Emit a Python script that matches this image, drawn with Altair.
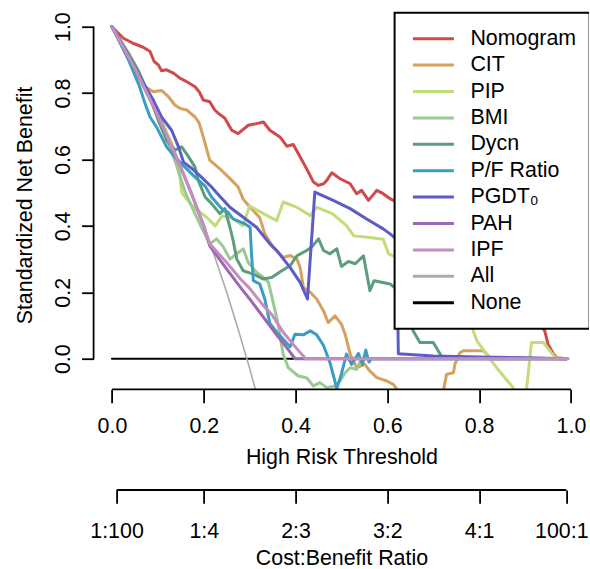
import altair as alt
import pandas as pd

FONT = "Liberation Sans"
FS = 21.4

series_names = ["Nomogram", "CIT", "PIP", "BMI", "Dycn", "P/F Ratio", "PGDT\u2080", "PAH", "IPF", "All", "None"]
series_colors = ["#D0494B", "#D5A15F", "#C3DC7A", "#9BC995", "#5B9D7C", "#3B9EC1",
                 "#5C5CC9", "#9B69B3", "#C68EBF", "#ABABAB", "#000000"]

x_ticks = [0.0, 0.2, 0.4, 0.6, 0.8, 1.0]
y_ticks = [0.0, 0.2, 0.4, 0.6, 0.8, 1.0]
cb_ticks = [0.01, 0.2, 0.4, 0.6, 0.8, 0.99]
cb_labels = ["1:100", "1:4", "2:3", "3:2", "4:1", "100:1"]

x_domain = [-0.04, 1.04]
y_domain = [-0.092, 1.042]

nomogram = [(0, 1.0), (0.01, 0.985), (0.025, 0.965), (0.046, 0.95), (0.068, 0.938), (0.083, 0.925),
            (0.092, 0.895), (0.101, 0.885), (0.108, 0.867), (0.119, 0.87), (0.134, 0.86), (0.148, 0.845),
            (0.163, 0.834), (0.181, 0.819), (0.19, 0.804), (0.199, 0.779), (0.213, 0.774), (0.224, 0.749),
            (0.232, 0.739), (0.246, 0.724), (0.261, 0.688), (0.275, 0.678), (0.297, 0.703), (0.315, 0.708),
            (0.33, 0.713), (0.344, 0.688), (0.366, 0.668), (0.381, 0.64), (0.395, 0.645), (0.417, 0.59),
            (0.428, 0.562), (0.439, 0.532), (0.45, 0.522), (0.461, 0.527), (0.468, 0.537), (0.479, 0.56),
            (0.497, 0.542), (0.519, 0.527), (0.533, 0.497), (0.544, 0.507), (0.559, 0.477), (0.577, 0.507),
            (0.591, 0.497), (0.606, 0.482), (0.65, 0.45), (0.70, 0.40), (0.75, 0.35), (0.80, 0.30),
            (0.85, 0.24), (0.90, 0.17), (0.93, 0.11), (0.943, 0.084), (0.95, 0.044), (0.962, 0.014),
            (0.969, 0.003), (0.99, 0.0)]

cit = [(0, 1.0), (0.036, 0.91), (0.072, 0.82), (0.09, 0.804), (0.108, 0.808), (0.123, 0.789),
       (0.137, 0.764), (0.148, 0.754), (0.163, 0.749), (0.181, 0.728), (0.19, 0.71), (0.199, 0.668),
       (0.206, 0.633), (0.213, 0.598), (0.239, 0.567), (0.261, 0.537), (0.275, 0.517), (0.286, 0.48),
       (0.301, 0.456), (0.322, 0.425), (0.333, 0.376), (0.351, 0.336), (0.373, 0.305), (0.388, 0.311),
       (0.403, 0.30), (0.41, 0.275), (0.417, 0.215), (0.432, 0.2), (0.446, 0.18), (0.461, 0.144),
       (0.471, 0.109), (0.486, 0.129), (0.50, 0.104), (0.508, 0.074), (0.519, 0.014), (0.533, -0.027),
       (0.551, -0.017), (0.562, -0.037), (0.577, -0.057), (0.599, -0.067), (0.613, -0.077),
       (0.624, -0.097), (0.65, -0.13), (0.69, -0.15), (0.715, -0.12), (0.722, -0.097), (0.729, -0.047),
       (0.744, -0.042), (0.747, -0.017), (0.758, 0.018), (0.766, 0.024), (0.809, 0.024), (0.817, 0.014),
       (0.825, 0.0), (0.99, 0.0)]

pip = [(0, 1.0), (0.05, 0.87), (0.1, 0.74), (0.13, 0.65), (0.145, 0.59), (0.152, 0.50), (0.174, 0.462),
       (0.188, 0.446), (0.206, 0.426), (0.225, 0.40), (0.24, 0.43), (0.26, 0.425), (0.285, 0.40),
       (0.30, 0.46), (0.33, 0.437), (0.359, 0.416), (0.373, 0.472), (0.403, 0.456), (0.432, 0.431),
       (0.446, 0.456), (0.48, 0.437), (0.511, 0.401), (0.527, 0.37), (0.562, 0.365), (0.591, 0.36),
       (0.603, 0.315), (0.65, 0.29), (0.70, 0.25), (0.75, 0.20), (0.78, 0.12), (0.787, 0.084),
       (0.795, 0.054), (0.838, -0.027), (0.871, -0.082), (0.878, -0.095), (0.89, -0.12), (0.90, -0.12),
       (0.903, -0.095), (0.914, 0.049), (0.94, 0.049), (0.966, 0.003), (0.99, 0.0)]

bmi = [(0, 1.0), (0.05, 0.87), (0.1, 0.735), (0.14, 0.585), (0.16, 0.50), (0.181, 0.437), (0.195, 0.396),
       (0.213, 0.346), (0.228, 0.361), (0.243, 0.336), (0.257, 0.30), (0.272, 0.316), (0.286, 0.331),
       (0.297, 0.29), (0.315, 0.26), (0.33, 0.245), (0.341, 0.23), (0.359, 0.124), (0.373, 0.014),
       (0.384, -0.027), (0.406, -0.052), (0.424, -0.057), (0.439, -0.082), (0.453, -0.072),
       (0.468, -0.087), (0.486, -0.082), (0.497, -0.067), (0.508, -0.042), (0.519, -0.027),
       (0.533, -0.032), (0.544, 0.0), (0.99, 0.0)]

dycn = [(0, 1.0), (0.036, 0.92), (0.057, 0.869), (0.079, 0.799), (0.101, 0.718), (0.119, 0.658),
        (0.137, 0.628), (0.152, 0.638), (0.167, 0.608), (0.181, 0.577), (0.188, 0.537), (0.203, 0.487),
        (0.217, 0.467), (0.235, 0.437), (0.246, 0.452), (0.257, 0.396), (0.264, 0.356), (0.272, 0.30),
        (0.286, 0.265), (0.308, 0.255), (0.33, 0.24), (0.348, 0.245), (0.37, 0.265), (0.388, 0.28),
        (0.403, 0.31), (0.424, 0.326), (0.435, 0.336), (0.45, 0.361), (0.461, 0.326), (0.475, 0.316),
        (0.49, 0.331), (0.50, 0.278), (0.515, 0.293), (0.53, 0.286), (0.548, 0.31), (0.562, 0.205),
        (0.571, 0.235), (0.606, 0.225), (0.63, 0.20), (0.645, 0.15), (0.656, 0.084), (0.671, 0.049),
        (0.70, 0.049), (0.715, 0.014), (0.72, 0.005), (0.99, 0.0)]

pf_ratio = [(0, 1.0), (0.036, 0.90), (0.06, 0.82), (0.072, 0.769), (0.083, 0.728), (0.097, 0.698),
            (0.108, 0.668), (0.119, 0.638), (0.137, 0.608), (0.159, 0.577), (0.181, 0.547), (0.203, 0.52),
            (0.217, 0.487), (0.239, 0.452), (0.253, 0.441), (0.264, 0.421), (0.29, 0.406), (0.301, 0.396),
            (0.304, 0.316), (0.308, 0.235), (0.322, 0.225), (0.333, 0.18), (0.344, 0.107), (0.359, 0.079),
            (0.373, 0.059), (0.388, 0.036), (0.399, 0.074), (0.417, 0.072), (0.432, 0.084), (0.446, 0.072),
            (0.461, 0.04), (0.475, -0.012), (0.49, -0.09), (0.50, -0.045), (0.511, 0.014), (0.522, -0.017),
            (0.537, 0.016), (0.546, -0.017), (0.553, 0.026), (0.56, -0.01), (0.565, 0.0), (0.99, 0.0)]

pgdt0 = [(0, 1.0), (0.036, 0.91), (0.065, 0.839), (0.09, 0.779), (0.108, 0.728), (0.13, 0.688),
         (0.145, 0.638), (0.156, 0.592), (0.174, 0.573), (0.195, 0.547), (0.217, 0.517), (0.228, 0.50),
         (0.257, 0.456), (0.286, 0.426), (0.315, 0.396), (0.344, 0.346), (0.359, 0.326), (0.388, 0.275),
         (0.41, 0.23), (0.426, 0.18), (0.442, 0.502), (0.482, 0.477), (0.519, 0.452), (0.555, 0.421),
         (0.591, 0.391), (0.606, 0.376), (0.62, 0.36), (0.624, 0.015), (0.70, 0.008), (0.80, 0.005),
         (0.90, 0.003), (0.97, 0.001), (0.99, 0.0)]

pah = [(0, 1.0), (0.05, 0.874), (0.1, 0.733), (0.15, 0.576), (0.175, 0.491), (0.2, 0.40), (0.213, 0.34),
       (0.25, 0.27), (0.28, 0.215), (0.30, 0.18), (0.33, 0.125), (0.36, 0.07), (0.38, 0.035),
       (0.399, 0.0), (0.99, 0.0)]

ipf = [(0, 1.0), (0.05, 0.874), (0.1, 0.733), (0.15, 0.576), (0.175, 0.491), (0.2, 0.40), (0.213, 0.346),
       (0.25, 0.29), (0.28, 0.24), (0.30, 0.212), (0.33, 0.16), (0.35, 0.13), (0.373, 0.08),
       (0.40, 0.035), (0.422, 0.0), (0.994, 0.0)]

treat_all = [(0, 1.0), (0.05, 0.874), (0.1, 0.733), (0.15, 0.576), (0.175, 0.491), (0.2, 0.40),
             (0.225, 0.303), (0.25, 0.20), (0.275, 0.089), (0.3, -0.029), (0.33, -0.18)]

treat_none = [(0, 0.0), (0.99, 0.0)]

curves = {"Nomogram": nomogram, "CIT": cit, "PIP": pip, "BMI": bmi, "Dycn": dycn,
          "P/F Ratio": pf_ratio, "PGDT\u2080": pgdt0, "PAH": pah, "IPF": ipf,
          "All": treat_all, "None": treat_none}


def frame(names):
    rows = []
    for s in names:
        for i, (x, y) in enumerate(curves[s]):
            rows.append({"series": s, "x": x, "y": y, "i": i})
    return pd.DataFrame(rows)


W, H = 495.7, 376.6
CB_OFFSET = 100.7

xs = alt.Scale(domain=x_domain, nice=False, zero=False)
ys = alt.Scale(domain=y_domain, nice=False, zero=False)

legend = alt.Legend(title=None, orient="top-right", offset=0, padding=13, fillColor="white",
                    strokeColor="black", symbolType="stroke", symbolSize=1681, symbolStrokeWidth=3,
                    clipHeight=26, rowPadding=0.4, symbolOffset=3.8, labelOffset=15,
                    labelFont=FONT, labelFontSize=FS, labelColor="black", labelLimit=300)
color = alt.Color("series:N", scale=alt.Scale(domain=series_names, range=series_colors), legend=legend)

x_axis = alt.Axis(values=x_ticks, format=".1f", title="High Risk Threshold", domain=False, grid=False,
                  tickSize=13.4, tickWidth=1.8, tickColor="black", labelPadding=30,
                  labelBaseline="alphabetic", labelAlign="center", labelFlush=False, labelOverlap=False,
                  labelFont=FONT, labelFontSize=FS, labelColor="black",
                  titleFont=FONT, titleFontSize=FS, titleFontWeight="normal", titleColor="black",
                  titleX=W / 2, titleY=74.3, titleBaseline="alphabetic", titleAlign="center")

y_axis = alt.Axis(orient="left", values=y_ticks, format=".1f", title="Standardized Net Benefit",
                  domain=False, grid=False,
                  tickSize=12, tickWidth=1.8, tickColor="black", labelPadding=12.5,
                  labelAngle=270, labelBaseline="alphabetic", labelAlign="center", labelFlush=False,
                  labelOverlap=False, labelFont=FONT, labelFontSize=FS, labelColor="black",
                  titleFont=FONT, titleFontSize=FS, titleFontWeight="normal", titleColor="black",
                  titleAngle=270, titleX=-62, titleY=H / 2 + 4, titleBaseline="alphabetic",
                  titleAlign="center")

# nested label expression for the cost:benefit axis, built from the lists above
expr = "'" + cb_labels[-1] + "'"
for k in range(len(cb_ticks) - 2, -1, -1):
    mid = (cb_ticks[k] + cb_ticks[k + 1]) / 2
    expr = f"datum.value < {mid} ? '{cb_labels[k]}' : ({expr})"

cb_axis = alt.Axis(orient="bottom", offset=CB_OFFSET, values=cb_ticks, labelExpr=expr,
                   title="Cost:Benefit Ratio", domain=False, grid=False,
                   tickSize=13.3, tickWidth=1.8, tickColor="black", labelPadding=34,
                   labelOffset={"condition": {"test": f"datum.value > {cb_ticks[-2]}", "value": -5},
                                "value": 0},
                   labelBaseline="alphabetic", labelAlign="center", labelFlush=False, labelOverlap=False,
                   labelFont=FONT, labelFontSize=FS, labelColor="black",
                   titleFont=FONT, titleFontSize=FS, titleFontWeight="normal", titleColor="black",
                   titleX=W / 2, titleY=75, titleBaseline="alphabetic", titleAlign="center")


def line_layer(names, width, xa, ya):
    return alt.Chart(frame(names)).mark_line(
        clip=True, strokeWidth=width, strokeCap="round", strokeJoin="round"
    ).encode(
        x=alt.X("x:Q", scale=xs, axis=xa),
        y=alt.Y("y:Q", scale=ys, axis=ya),
        color=color,
        detail="series:N",
        order=alt.Order("i:Q"),
    )


none_layer = line_layer(["None"], 2.0, None, None)
all_layer = line_layer(["All"], 1.6, None, None)
model_layer = line_layer(series_names[:9], 3.0, x_axis, y_axis)

x_line = alt.Chart(pd.DataFrame({"a": [x_ticks[0]], "b": [x_ticks[-1]]})).mark_rule(
    color="black", strokeWidth=1.8).encode(
    x=alt.X("a:Q", scale=xs, axis=None), x2="b:Q", y=alt.value(H))
y_line = alt.Chart(pd.DataFrame({"a": [y_ticks[0]], "b": [y_ticks[-1]]})).mark_rule(
    color="black", strokeWidth=1.8).encode(
    y=alt.Y("a:Q", scale=ys, axis=None), y2="b:Q", x=alt.value(0))
cb_line = alt.Chart(pd.DataFrame({"a": [cb_ticks[0]], "b": [cb_ticks[-1]]})).mark_rule(
    color="black", strokeWidth=1.8).encode(
    x=alt.X("a:Q", scale=xs, axis=cb_axis), x2="b:Q", y=alt.value(H + CB_OFFSET))

chart = alt.layer(none_layer, all_layer, model_layer, x_line, y_line, cb_line).resolve_axis(
    x="independent", y="independent"
).properties(
    width=W, height=H,
    autosize=alt.AutoSizeParams(type="none"),
    padding={"left": 93.6, "top": 12.7, "right": 0, "bottom": 179.7},
).configure_view(stroke=None).configure_legend(strokeWidth=2)

chart.save("out.html", embed_options={"renderer": "svg", "actions": False})
